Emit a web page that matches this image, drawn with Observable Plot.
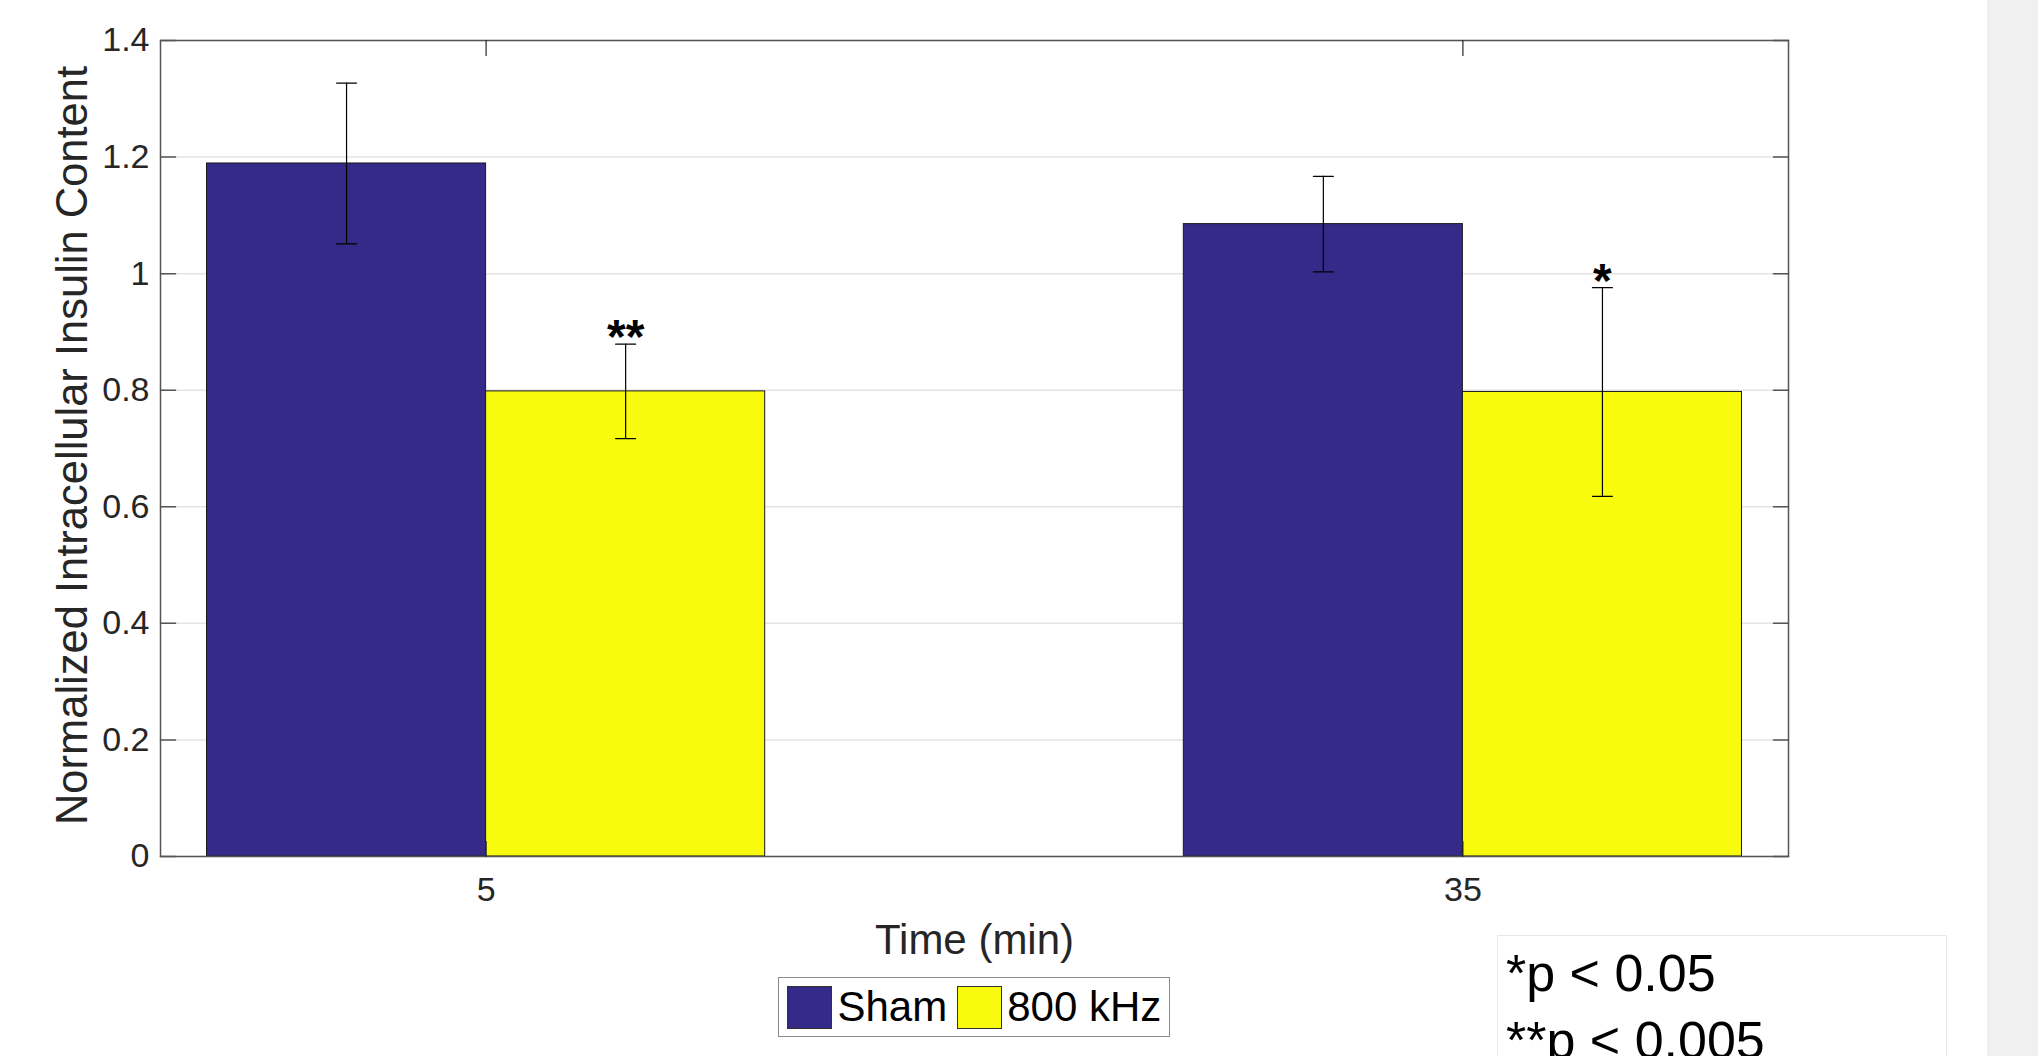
<!DOCTYPE html>
<html>
<head>
<meta charset="utf-8">
<script src="https://cdn.jsdelivr.net/npm/d3@7"></script>
<script src="https://cdn.jsdelivr.net/npm/@observablehq/plot@0.6"></script>
<style>
  html, body { margin: 0; padding: 0; background: #fff; }
  #fig { position: relative; width: 2038px; height: 1056px; overflow: hidden;
         font-family: "Liberation Sans", Arial, Helvetica, sans-serif; background: #fff; }
  #chart { position: absolute; left: 0; top: 0; }
  #strip { position: absolute; left: 1987px; top: 0; width: 51px; height: 1056px; background: #f0f0f0; }
  #legend { position: absolute; left: 778px; top: 977px; width: 392px; height: 60px; box-sizing: border-box;
            border: 1.5px solid #8a8a8a; background: #fff; display: flex; align-items: center;
            padding-left: 7.5px; font-size: 42px; color: #000; white-space: nowrap; }
  #legend .sw { width: 45px; height: 43px; box-sizing: border-box; border: 1px solid #333; flex: none; }
  #legend .lab { line-height: normal; }
  #note { position: absolute; left: 1497px; top: 935px; width: 450px; height: 200px; box-sizing: border-box;
          border: 1px solid #e8e8e8; background: #fff; padding: 3.5px 0 0 8px;
          font-size: 52px; line-height: 67px; color: #000; white-space: nowrap; }
</style>
</head>
<body>
<div id="fig">
  <div id="chart"></div>
  <div id="strip"></div>
  <div id="legend"></div>
  <div id="note"></div>
</div>
<script>
// Time points (min) and treatment groups
const times = [5, 35];
const groups = ["Sham", "800 kHz"];
const groupColors = ["#352a87", "#f9fb0e"];

// Normalized intracellular insulin content: mean and error per group
const shamMean = [1.189, 1.085];
const shamErr = [0.138, 0.082];
const khzMean = [0.798, 0.797];
const khzErr = [0.081, 0.179];

// Significance markers over the 800 kHz bars
const khzStars = ["**", "*"];
const noteLines = ["*p < 0.05", "**p < 0.005"];

// Axes
const xDomain = [-5, 45];
const yDomain = [0, 1.4];
const yTicks = [0, 0.2, 0.4, 0.6, 0.8, 1, 1.2, 1.4];
const yTickLabels = ["0", "0.2", "0.4", "0.6", "0.8", "1", "1.2", "1.4"];
const xTickLabels = ["5", "35"];
const xLabel = "Time (min)";
const yLabel = "Normalized Intracellular Insulin Content";

// Grouped-bar geometry in time units (two bars per group)
const spacing = times[1] - times[0];
const barWidth = spacing * (groups.length / (groups.length + 1.5)) / groups.length;

const rows = [];
times.forEach((t, i) => {
  rows.push({time: t, group: groups[0], mean: shamMean[i], err: shamErr[i], star: "", x1: t - barWidth, x2: t});
  rows.push({time: t, group: groups[1], mean: khzMean[i], err: khzErr[i], star: khzStars[i], x1: t, x2: t + barWidth});
});
rows.forEach(d => { d.center = (d.x1 + d.x2) / 2; });

const caps = rows.flatMap(d => [
  {center: d.center, y: d.mean - d.err},
  {center: d.center, y: d.mean + d.err}
]);

// A straight segment drawn along the vector direction
const segment = {draw(context, l) { context.moveTo(0, 0); context.lineTo(0, -l); }};
const axisInk = "#262626";
const frameInk = "#555555";
const tickLen = 15;

const chart = Plot.plot({
  width: 2038,
  height: 1056,
  marginLeft: 160,
  marginRight: 250,
  marginTop: 40,
  marginBottom: 200,
  style: {fontFamily: "'Liberation Sans', Arial, Helvetica, sans-serif", background: "#fff", overflow: "visible"},
  x: {domain: xDomain},
  y: {domain: yDomain},
  color: {domain: groups, range: groupColors},
  marks: [
    Plot.gridY({ticks: yTicks, stroke: "#e4e4e4", strokeOpacity: 1, strokeWidth: 1.5}),
    Plot.rect(rows, {x1: "x1", x2: "x2", y1: 0, y2: "mean", fill: "group", stroke: "#1a1a1a", strokeWidth: 1}),
    Plot.ruleX(rows, {x: "center", y1: d => d.mean - d.err, y2: d => d.mean + d.err, stroke: "#000", strokeWidth: 1.2}),
    Plot.vector(caps, {x: "center", y: "y", length: 20, rotate: 90, anchor: "middle", shape: segment, stroke: "#000", strokeWidth: 1.2}),
    Plot.text(rows.filter(d => d.star), {x: "center", y: d => d.mean + d.err, text: "star", lineAnchor: "bottom",
      dy: 9, fontSize: 48, fontWeight: "bold", fill: "#000"}),
    Plot.frame({stroke: frameInk, strokeWidth: 1.5}),
    // inward tick marks on all four sides
    Plot.vector(yTicks, {y: d => d, frameAnchor: "left", rotate: 90, length: tickLen, anchor: "start", shape: segment, stroke: frameInk, strokeWidth: 1.5}),
    Plot.vector(yTicks, {y: d => d, frameAnchor: "right", rotate: -90, length: tickLen, anchor: "start", shape: segment, stroke: frameInk, strokeWidth: 1.5}),
    Plot.vector(times, {x: d => d, frameAnchor: "top", rotate: 180, length: tickLen, anchor: "start", shape: segment, stroke: axisInk, strokeWidth: 1.2}),
    Plot.vector(times, {x: d => d, frameAnchor: "bottom", rotate: 0, length: tickLen, anchor: "start", shape: segment, stroke: axisInk, strokeWidth: 1.2}),
    Plot.axisY({ticks: yTicks, tickFormat: d => yTickLabels[yTicks.indexOf(d)], tickSize: 0, tickPadding: 11,
      fontSize: 34, fill: axisInk, label: null}),
    Plot.axisX({ticks: times, tickFormat: d => xTickLabels[times.indexOf(d)], tickSize: 0, tickPadding: 20,
      fontSize: 34, fill: axisInk, label: null}),
    Plot.text([yLabel], {frameAnchor: "left", textAnchor: "middle", rotate: -90, dx: -104, dy: -3, lineAnchor: "top",
      fontSize: 43.5, fill: axisInk}),
    Plot.text([xLabel], {frameAnchor: "bottom", textAnchor: "middle", lineAnchor: "bottom", dy: 97, fontSize: 42, fill: axisInk})
  ]
});
document.getElementById("chart").appendChild(chart);

// Legend
const legend = document.getElementById("legend");
groups.forEach((g, i) => {
  const sw = document.createElement("span");
  sw.className = "sw";
  sw.style.background = groupColors[i];
  sw.style.marginLeft = i === 0 ? "0px" : "10px";
  const lab = document.createElement("span");
  lab.className = "lab";
  lab.style.marginLeft = i === 0 ? "6px" : "5px";
  lab.textContent = g;
  legend.appendChild(sw);
  legend.appendChild(lab);
});

// Significance note
const note = document.getElementById("note");
noteLines.forEach(t => {
  const div = document.createElement("div");
  div.textContent = t;
  note.appendChild(div);
});
</script>
</body>
</html>
